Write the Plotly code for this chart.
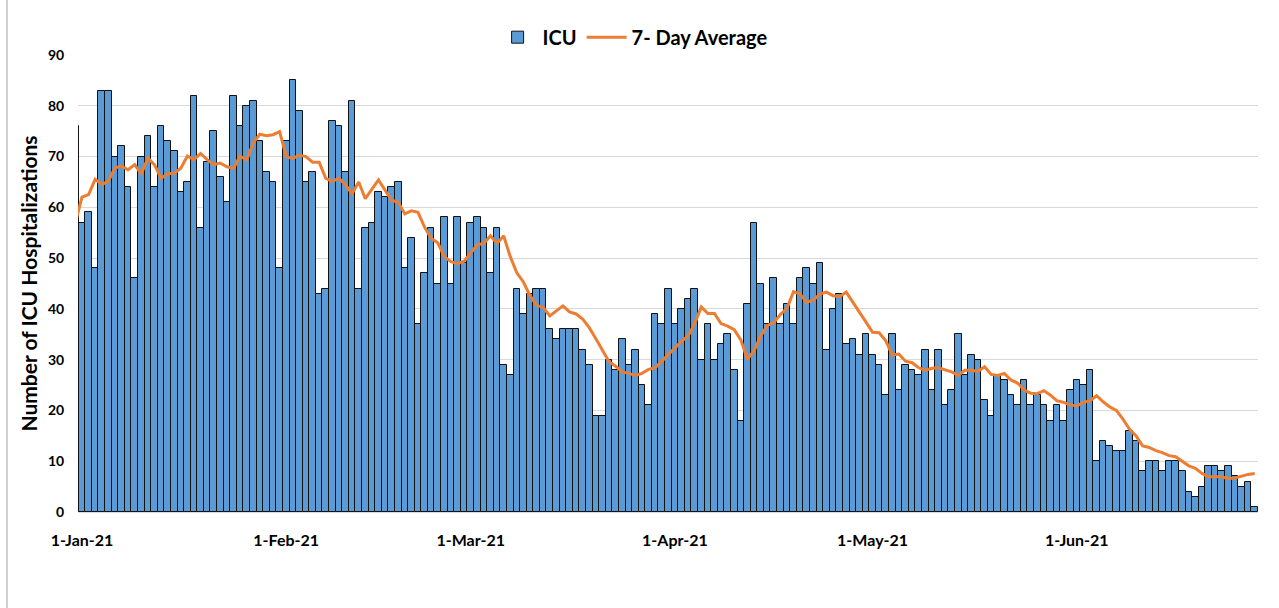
import pandas as pd
import plotly.graph_objects as go

# Daily dates: first entry (31-Dec-20) only shows as a sliver at the left edge
start_date = "2020-12-31"

icu = [76,
    57, 59, 48, 83, 83, 70, 72, 64, 46, 70, 74, 64, 76, 73, 71, 63, 65, 82, 56, 69,
    75, 66, 61, 82, 76, 80, 81, 73, 67, 65, 48,
    73, 85, 79, 65, 67, 43, 44, 77, 76, 67, 81, 44, 56, 57, 63, 62, 64, 65, 48, 54,
    37, 47, 56, 45, 58, 45, 58, 49,
    57, 58, 56, 47, 56, 29, 27, 44, 39, 43, 44, 44, 36, 34, 36, 36, 36, 32, 29, 19,
    19, 30, 28, 34, 29, 32, 25, 21, 39, 37, 44,
    37, 40, 42, 44, 30, 37, 30, 33, 35, 28, 18, 41, 57, 45, 37, 46, 37, 41, 37, 46,
    48, 45, 49, 32, 40, 43, 33, 34, 31, 35,
    31, 29, 23, 35, 24, 29, 28, 27, 32, 24, 32, 21, 24, 35, 27, 31, 30, 22, 19, 27,
    26, 23, 21, 26, 21, 23, 21, 18, 21, 18, 24,
    26, 25, 28, 10, 14, 13, 12, 12, 16, 14, 8, 10, 10, 8, 10, 10, 8, 4, 3, 5,
    9, 9, 8, 9, 7, 5, 6, 1]

avg7 = [57.0,
    62.0, 62.5, 65.5, 64.5, 65.1, 67.8, 68.1, 67.4, 68.4, 66.6, 69.7, 68.4, 65.7, 66.6,
    66.7, 67.7, 70.1, 69.4, 70.6, 69.4, 68.4, 68.7, 68.0, 67.7, 70.1, 69.3, 72.7, 74.4,
    74.1, 74.3, 74.9,
    70.0, 69.6, 70.3, 70.0, 68.9, 68.9, 65.7, 65.1, 65.7, 64.4, 62.7, 65.0, 61.7, 63.6,
    65.4, 63.4, 61.4, 61.0, 58.7, 59.3, 59.0, 56.1, 53.9, 53.0, 50.3, 49.3, 48.9, 49.4,
    51.1, 52.6, 52.9, 54.4, 52.9, 54.4, 50.3, 47.1, 45.3, 42.6, 40.7, 40.3, 38.6, 39.6,
    40.6, 39.4, 39.0, 38.0, 36.3, 34.1, 31.7, 29.6, 28.7, 27.6, 27.3, 26.9, 27.3, 28.1,
    28.4, 29.7, 31.0,
    32.4, 33.6, 34.7, 37.1, 40.4, 39.1, 39.1, 37.1, 36.6, 35.9, 33.9, 30.1, 31.7, 34.6,
    36.7, 37.3, 38.9, 40.1, 43.4, 42.9, 41.3, 41.7, 42.9, 43.3, 42.6, 42.4, 43.3, 41.4,
    39.4, 37.4,
    35.4, 35.3, 33.7, 30.9, 31.1, 29.7, 29.4, 28.4, 27.9, 28.3, 28.4, 28.0, 27.6, 26.9,
    27.9, 27.9, 27.7, 28.6, 27.1, 26.9, 27.3, 26.0, 25.4, 24.0, 23.4, 23.3, 23.9, 23.0,
    21.9, 21.6, 21.1,
    20.9, 21.6, 21.9, 22.9, 21.7, 20.7, 20.0, 18.3, 16.3, 15.0, 13.0, 12.7, 12.1, 11.7,
    11.1, 10.9, 10.0, 9.1, 8.6, 7.6, 6.9, 7.0, 6.9, 6.6, 6.7, 7.1, 7.4, 7.6]

tick_dates = ["2021-01-01", "2021-02-01", "2021-03-01", "2021-04-01", "2021-05-01", "2021-06-01"]
tick_labels = ["1-Jan-21", "1-Feb-21", "1-Mar-21", "1-Apr-21", "1-May-21", "1-Jun-21"]
y_ticks = [0, 10, 20, 30, 40, 50, 60, 70, 80, 90]

dates = pd.date_range(start_date, periods=len(icu), freq="D")

FONT = "Lato, 'Open Sans', Arial, sans-serif"

fig = go.Figure()
fig.add_trace(go.Bar(
    x=dates, y=icu, name="ICU",
    marker=dict(color="#5B9BD5", line=dict(color="#111111", width=1)),
))
fig.add_trace(go.Scatter(
    x=dates, y=avg7, name="7- Day Average", mode="lines",
    line=dict(color="#ED7D31", width=3),
))

fig.update_layout(
    width=1279, height=608,
    margin=dict(l=78, r=21, t=55, b=96),
    paper_bgcolor="white", plot_bgcolor="white",
    bargap=0,
    font=dict(family=FONT, color="#000000"),
    showlegend=True,
    legend=dict(
        orientation="h", x=0.47, xanchor="center", y=1.039, yanchor="middle",
        font=dict(size=20, family=FONT, color="#000000", weight="bold"),
        itemwidth=40, traceorder="normal", bgcolor="rgba(0,0,0,0)",
    ),
    xaxis=dict(
        type="date",
        range=["2020-12-31 09:30", "2021-06-28 12:00"],
        tickvals=tick_dates, ticktext=tick_labels,
        tickfont=dict(size=16, family=FONT, color="#000000", weight="bold"),
        ticks="outside", ticklen=14, tickcolor="rgba(0,0,0,0)",
        showgrid=False, showline=False, zeroline=False,
    ),
    yaxis=dict(
        range=[0, 90], tickvals=y_ticks,
        tickfont=dict(size=14, family=FONT, color="#000000", weight="bold"),
        ticks="outside", ticklen=10, tickcolor="rgba(0,0,0,0)",
        showgrid=True, gridcolor="#D9D9D9", gridwidth=1,
        zeroline=True, zerolinecolor="#D9D9D9", zerolinewidth=1,
        showline=False,
        title=dict(text="Number of ICU Hospitalizations",
                   font=dict(size=21, family=FONT, color="#000000", weight="bold"),
                   standoff=4),
    ),
    shapes=[dict(type="line", xref="paper", yref="paper",
                 x0=-71/1180, x1=-71/1180, y0=-96/457, y1=1.2,
                 line=dict(color="#D0D0D0", width=2))],
)

fig.write_html("out.html", config={"displayModeBar": False},
               post_script="document.body.style.margin='0';")
